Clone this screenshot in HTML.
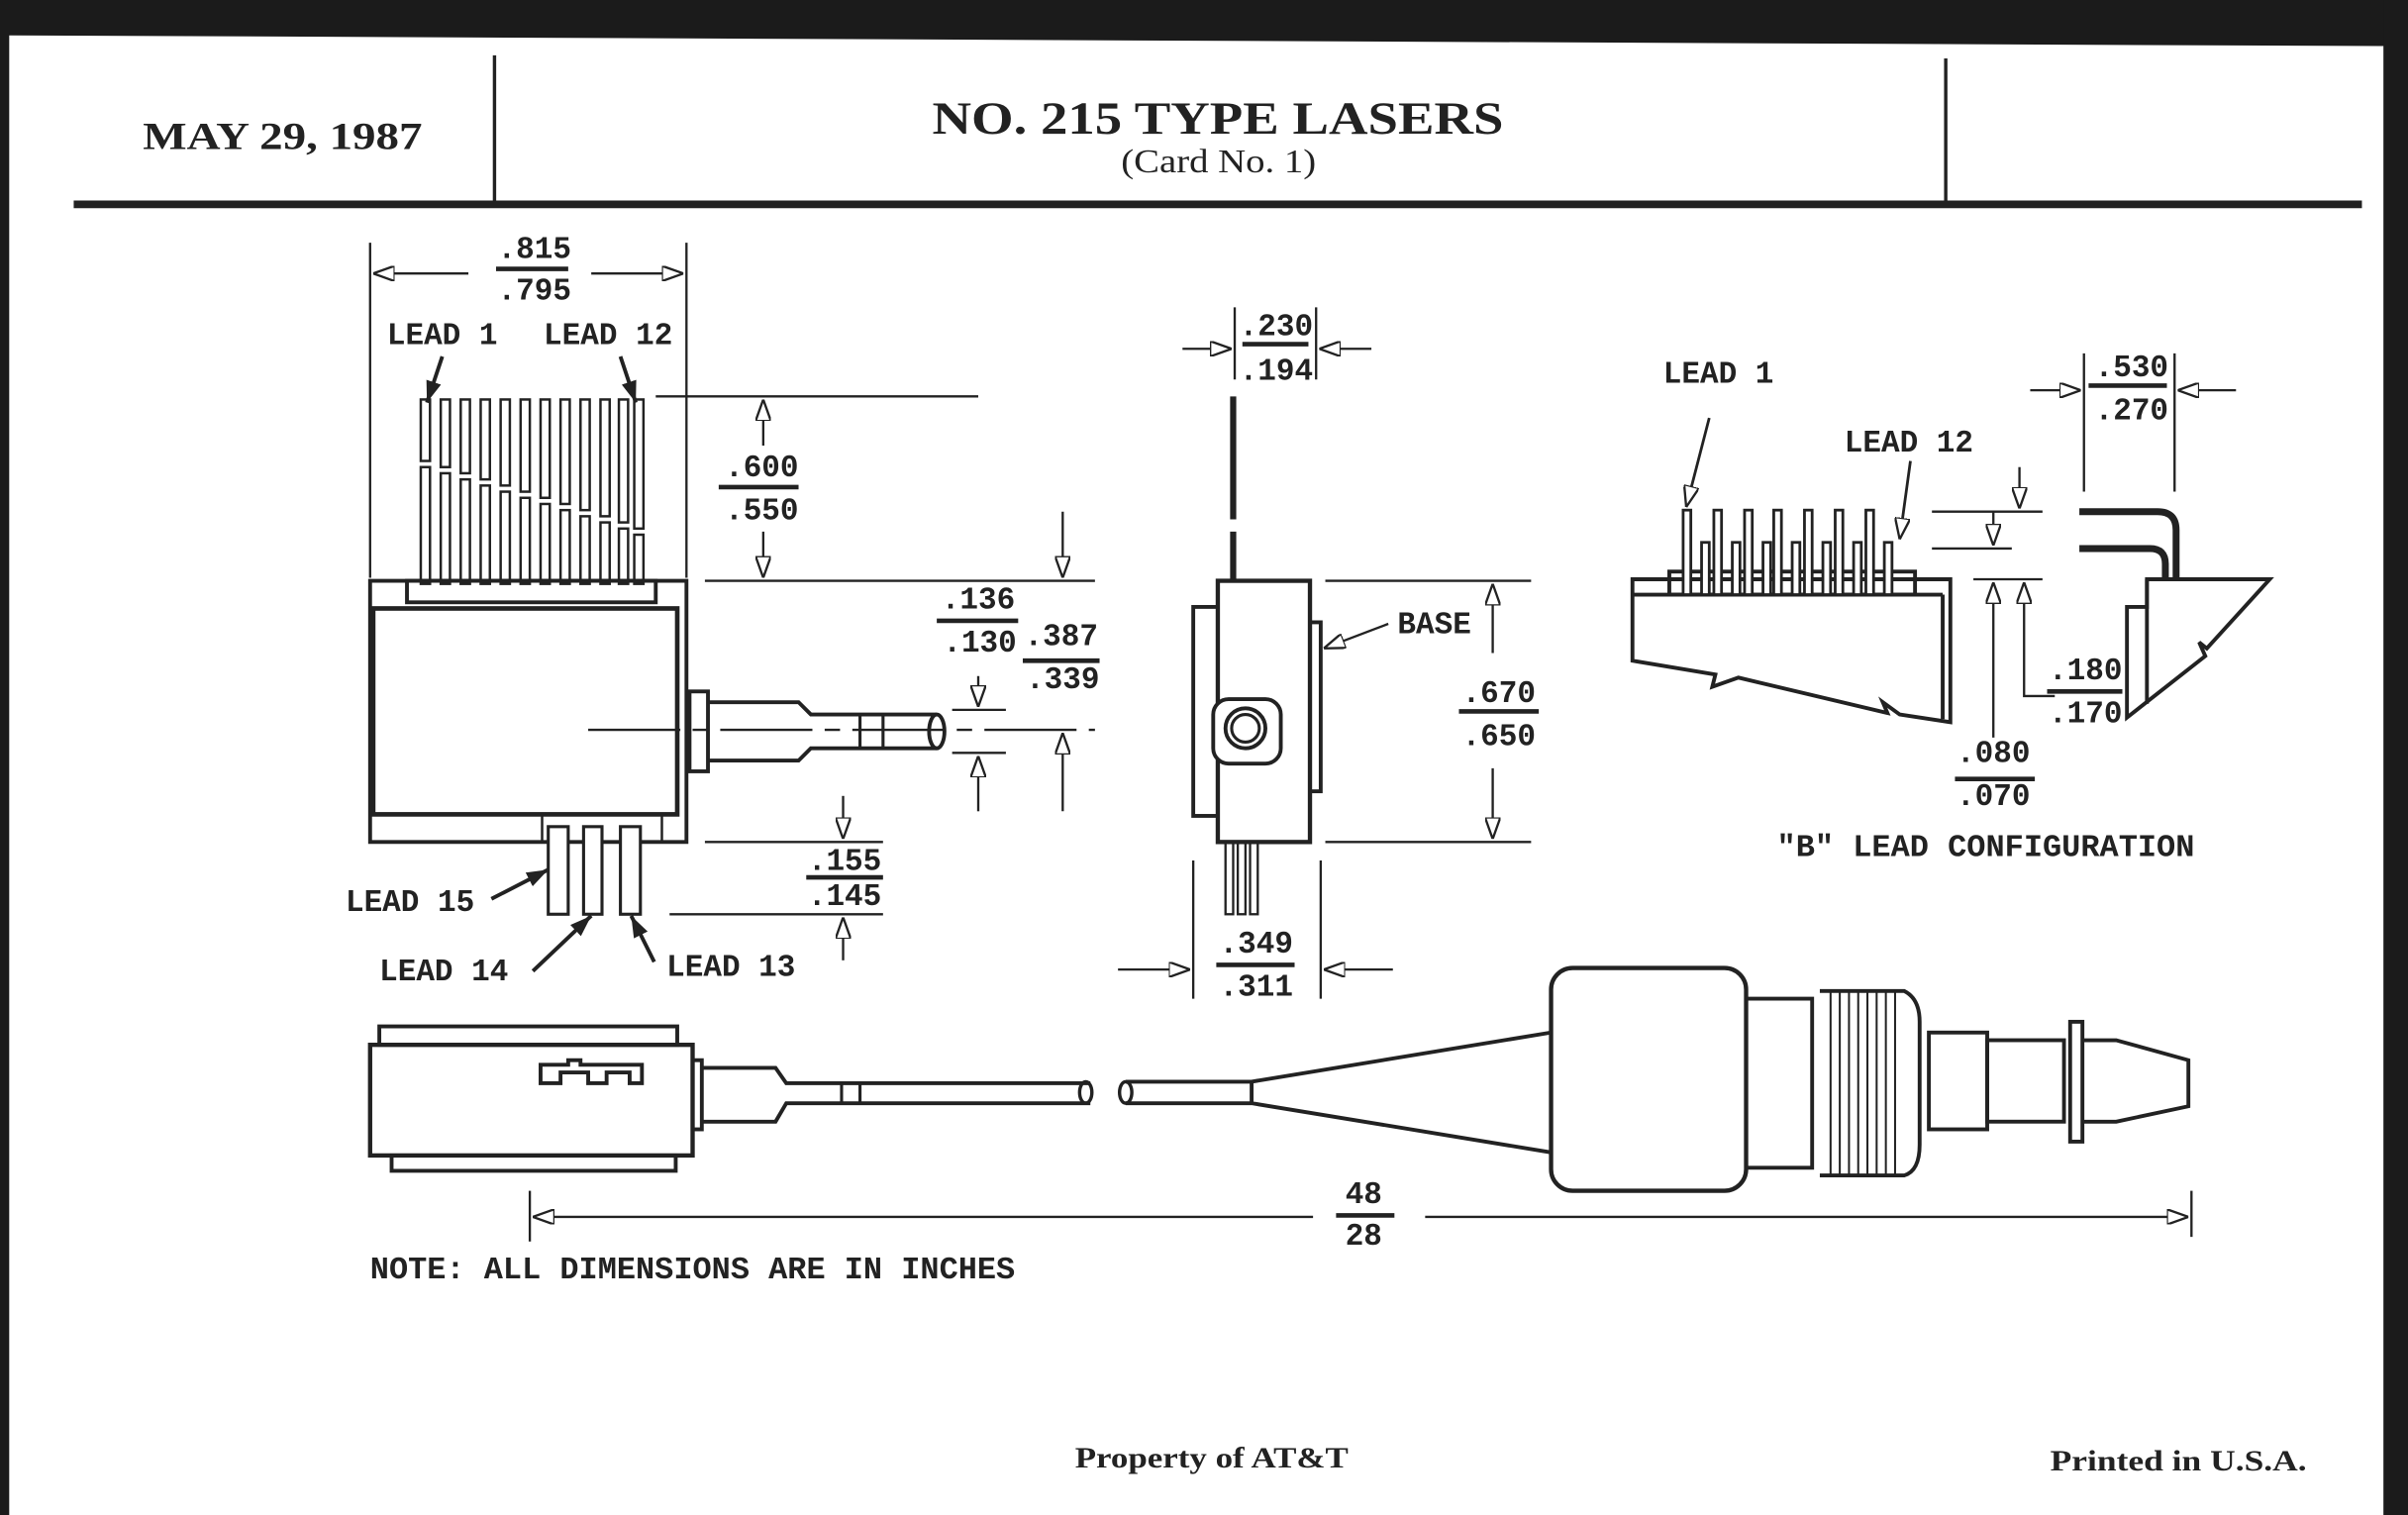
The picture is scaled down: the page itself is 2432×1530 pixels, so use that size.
<!DOCTYPE html>
<html><head><meta charset="utf-8"><style>
html,body{margin:0;padding:0;background:#fff;}
svg{display:block;}
.l{font-family:"Liberation Mono",monospace;font-weight:bold;font-size:20px;fill:#222;}
.s{font-family:"Liberation Serif",serif;font-weight:bold;fill:#222;}
</style></head><body>
<svg width="2432" height="1530" viewBox="0 0 1568 986" preserveAspectRatio="none" xmlns="http://www.w3.org/2000/svg">
<defs>
<marker id="a" viewBox="0 0 14 10" refX="14" refY="5" markerWidth="14" markerHeight="10" markerUnits="userSpaceOnUse" orient="auto"><path d="M0,0 L14,5 L0,10 Z" fill="#fff" stroke="#222" stroke-width="1.5"/></marker>
<marker id="f" viewBox="0 0 14 10" refX="14" refY="5" markerWidth="14" markerHeight="10" markerUnits="userSpaceOnUse" orient="auto"><path d="M0,0 L14,5 L0,10 Z" fill="#222"/></marker>
</defs>
<rect width="1568" height="986" fill="#fff"/>
<!-- scanner borders -->
<polygon points="0,0 1568,0 1568,30 1550,30 6,23 6,986 0,986" fill="#1b1b1b"/>
<rect x="1552" y="0" width="16" height="986" fill="#1b1b1b"/>
<g stroke="#222" fill="none" stroke-width="2.2">
<line x1="322" y1="36" x2="322" y2="132"/>
<line x1="1267" y1="38" x2="1267" y2="132"/>
<line x1="48" y1="133" x2="1538" y2="133" stroke-width="5"/>
</g>
<text class="s" x="93" y="97" font-size="25" textLength="182" lengthAdjust="spacingAndGlyphs">MAY 29, 1987</text>
<text class="s" x="607" y="87" font-size="30" textLength="372" lengthAdjust="spacingAndGlyphs">NO. 215 TYPE LASERS</text>
<text class="s" x="730" y="112" font-size="22" style="font-weight:normal" textLength="127" lengthAdjust="spacingAndGlyphs">(Card No. 1)</text>

<g stroke="#222" fill="none" stroke-width="2">
<!-- main view -->
<line x1="241" y1="158" x2="241" y2="376" stroke-width="1.5"/>
<line x1="447" y1="158" x2="447" y2="376" stroke-width="1.5"/>
<line x1="305" y1="178" x2="243" y2="178" marker-end="url(#a)" stroke-width="1.5"/>
<line x1="385" y1="178" x2="445" y2="178" marker-end="url(#a)" stroke-width="1.5"/>
<line x1="323" y1="175" x2="370" y2="175" stroke-width="3"/>
<path d="M241,378 H447 V548 H241 Z" stroke-width="2.5"/>
<rect x="243" y="396" width="198" height="134" stroke-width="3"/>
<rect x="265" y="378" width="162" height="14" stroke-width="2.5"/>
<g stroke-width="1.6">
<rect x="274" y="260" width="6" height="40"/><rect x="274" y="304" width="6" height="76"/>
<rect x="287" y="260" width="6" height="44"/><rect x="287" y="308" width="6" height="72"/>
<rect x="300" y="260" width="6" height="48"/><rect x="300" y="312" width="6" height="68"/>
<rect x="313" y="260" width="6" height="52"/><rect x="313" y="316" width="6" height="64"/>
<rect x="326" y="260" width="6" height="56"/><rect x="326" y="320" width="6" height="60"/>
<rect x="339" y="260" width="6" height="60"/><rect x="339" y="324" width="6" height="56"/>
<rect x="352" y="260" width="6" height="64"/><rect x="352" y="328" width="6" height="52"/>
<rect x="365" y="260" width="6" height="68"/><rect x="365" y="332" width="6" height="48"/>
<rect x="378" y="260" width="6" height="72"/><rect x="378" y="336" width="6" height="44"/>
<rect x="391" y="260" width="6" height="76"/><rect x="391" y="340" width="6" height="40"/>
<rect x="403" y="260" width="6" height="80"/><rect x="403" y="344" width="6" height="36"/>
<rect x="413" y="260" width="6" height="84"/><rect x="413" y="348" width="6" height="32"/>
</g>
<line x1="427" y1="258" x2="637" y2="258" stroke-width="1.5"/>
<line x1="459" y1="378" x2="713" y2="378" stroke-width="1.5"/>
<line x1="497" y1="290" x2="497" y2="260" marker-end="url(#a)" stroke-width="1.5"/>
<line x1="497" y1="346" x2="497" y2="376" marker-end="url(#a)" stroke-width="1.5"/>
<line x1="468" y1="317" x2="520" y2="317" stroke-width="3"/>
<line x1="288" y1="232" x2="278" y2="262" marker-end="url(#f)" stroke-width="2.5"/>
<line x1="404" y1="232" x2="414" y2="262" marker-end="url(#f)" stroke-width="2.5"/>
<rect x="353" y="530" width="78" height="18" stroke-width="1.6"/>
<rect x="357" y="538" width="13" height="57" fill="#fff"/>
<rect x="380" y="538" width="12" height="57" fill="#fff"/>
<rect x="404" y="538" width="13" height="57" fill="#fff"/>
<line x1="320" y1="585" x2="357" y2="566" marker-end="url(#f)" stroke-width="2.5"/>
<line x1="347" y1="632" x2="385" y2="596" marker-end="url(#f)" stroke-width="2.5"/>
<line x1="426" y1="626" x2="411" y2="596" marker-end="url(#f)" stroke-width="2.5"/>
<line x1="459" y1="548" x2="575" y2="548" stroke-width="1.5"/>
<line x1="436" y1="595" x2="575" y2="595" stroke-width="1.5"/>
<line x1="549" y1="518" x2="549" y2="546" marker-end="url(#a)" stroke-width="1.5"/>
<line x1="549" y1="625" x2="549" y2="597" marker-end="url(#a)" stroke-width="1.5"/>
<line x1="525" y1="571" x2="575" y2="571" stroke-width="3"/>
<rect x="449" y="450" width="12" height="52" stroke-width="2.5"/>
<path d="M461,457 H520 L528,465 H610 M461,495 H520 L528,487 H610" stroke-width="2.5"/>
<path d="M560,465 V487 M575,465 V487" stroke-width="2"/>
<ellipse cx="610" cy="476" rx="5" ry="11" stroke-width="2.5"/>
<line x1="383" y1="475" x2="713" y2="475" stroke-width="1.5" stroke-dasharray="60,8,10,8"/>
<line x1="620" y1="462" x2="655" y2="462" stroke-width="1.5"/>
<line x1="620" y1="490" x2="655" y2="490" stroke-width="1.5"/>
<line x1="637" y1="440" x2="637" y2="460" marker-end="url(#a)" stroke-width="1.5"/>
<line x1="637" y1="528" x2="637" y2="492" marker-end="url(#a)" stroke-width="1.5"/>
<line x1="692" y1="333" x2="692" y2="376" marker-end="url(#a)" stroke-width="1.5"/>
<line x1="692" y1="528" x2="692" y2="477" marker-end="url(#a)" stroke-width="1.5"/>
<line x1="610" y1="404" x2="663" y2="404" stroke-width="3"/>
<line x1="666" y1="430" x2="716" y2="430" stroke-width="3"/>

<!-- side view -->
<line x1="804" y1="200" x2="804" y2="247" stroke-width="1.5"/>
<line x1="857" y1="200" x2="857" y2="247" stroke-width="1.5"/>
<line x1="770" y1="227" x2="802" y2="227" marker-end="url(#a)" stroke-width="1.5"/>
<line x1="893" y1="227" x2="859" y2="227" marker-end="url(#a)" stroke-width="1.5"/>
<line x1="809" y1="224" x2="852" y2="224" stroke-width="3"/>
<line x1="803" y1="258" x2="803" y2="338" stroke-width="4"/>
<line x1="803" y1="346" x2="803" y2="378" stroke-width="4"/>
<rect x="793" y="378" width="60" height="170" stroke-width="2.8"/>
<rect x="777" y="395" width="16" height="136" stroke-width="2.5"/>
<rect x="853" y="405" width="7" height="110" stroke-width="2.5"/>
<rect x="790" y="455" width="44" height="42" rx="10" fill="#fff" stroke-width="2.5"/>
<circle cx="811" cy="474" r="13" stroke-width="2.5"/>
<circle cx="811" cy="474" r="9" stroke-width="2"/>
<rect x="798" y="548" width="5" height="47" stroke-width="1.5"/>
<rect x="806" y="548" width="5" height="47" stroke-width="1.5"/>
<rect x="814" y="548" width="5" height="47" stroke-width="1.5"/>
<line x1="904" y1="406" x2="862" y2="422" marker-end="url(#a)" stroke-width="1.5"/>
<line x1="863" y1="378" x2="997" y2="378" stroke-width="1.5"/>
<line x1="863" y1="548" x2="997" y2="548" stroke-width="1.5"/>
<line x1="972" y1="425" x2="972" y2="380" marker-end="url(#a)" stroke-width="1.5"/>
<line x1="972" y1="500" x2="972" y2="546" marker-end="url(#a)" stroke-width="1.5"/>
<line x1="950" y1="463" x2="1002" y2="463" stroke-width="3"/>
<line x1="777" y1="560" x2="777" y2="650" stroke-width="1.5"/>
<line x1="860" y1="560" x2="860" y2="650" stroke-width="1.5"/>
<line x1="728" y1="631" x2="775" y2="631" marker-end="url(#a)" stroke-width="1.5"/>
<line x1="907" y1="631" x2="862" y2="631" marker-end="url(#a)" stroke-width="1.5"/>
<line x1="792" y1="628" x2="843" y2="628" stroke-width="3"/>

<!-- B lead configuration -->
<path d="M1063,377 H1270 V470 L1237,465 L1226,457 L1229,464 L1132,441 L1115,447 L1117,439 L1063,430 Z" stroke-width="2.5"/>
<line x1="1063" y1="387" x2="1265" y2="387" stroke-width="2.5"/>
<line x1="1265" y1="387" x2="1265" y2="468" stroke-width="2.5"/>
<rect x="1087" y="372" width="160" height="15" stroke-width="2.5"/>
<g stroke-width="1.8" fill="#fff">
<rect x="1096" y="332" width="5" height="55"/><rect x="1108" y="353" width="5" height="34"/>
<rect x="1116" y="332" width="5" height="55"/><rect x="1128" y="353" width="5" height="34"/>
<rect x="1136" y="332" width="5" height="55"/><rect x="1148" y="353" width="5" height="34"/>
<rect x="1155" y="332" width="5" height="55"/><rect x="1167" y="353" width="5" height="34"/>
<rect x="1175" y="332" width="5" height="55"/><rect x="1187" y="353" width="5" height="34"/>
<rect x="1195" y="332" width="5" height="55"/><rect x="1215" y="332" width="5" height="55"/>
<rect x="1207" y="353" width="5" height="34"/><rect x="1227" y="353" width="5" height="34"/>
</g>
<line x1="1113" y1="272" x2="1098" y2="330" marker-end="url(#a)" stroke-width="1.8"/>
<line x1="1244" y1="300" x2="1237" y2="351" marker-end="url(#a)" stroke-width="1.8"/>
<line x1="1258" y1="333" x2="1330" y2="333" stroke-width="1.5"/>
<line x1="1258" y1="357" x2="1310" y2="357" stroke-width="1.5"/>
<line x1="1285" y1="377" x2="1330" y2="377" stroke-width="1.5"/>
<line x1="1315" y1="304" x2="1315" y2="331" marker-end="url(#a)" stroke-width="1.5"/>
<line x1="1298" y1="333" x2="1298" y2="355" marker-end="url(#a)" stroke-width="1.5"/>
<line x1="1298" y1="480" x2="1298" y2="379" marker-end="url(#a)" stroke-width="1.5"/>
<path d="M1338,453 H1318 V379" marker-end="url(#a)" stroke-width="1.5"/>
<line x1="1273" y1="507" x2="1325" y2="507" stroke-width="3"/>
<line x1="1333" y1="450" x2="1382" y2="450" stroke-width="3"/>
<line x1="1357" y1="230" x2="1357" y2="320" stroke-width="1.5"/>
<line x1="1416" y1="230" x2="1416" y2="320" stroke-width="1.5"/>
<line x1="1322" y1="254" x2="1355" y2="254" marker-end="url(#a)" stroke-width="1.5"/>
<line x1="1456" y1="254" x2="1418" y2="254" marker-end="url(#a)" stroke-width="1.5"/>
<line x1="1360" y1="251" x2="1411" y2="251" stroke-width="3"/>
<path d="M1354,333 H1405 Q1417,333 1417,345 V377" stroke-width="4.5"/>
<path d="M1354,357 H1400 Q1410,357 1410,367 V377" stroke-width="4.5"/>
<path d="M1398,377 H1478 L1437,422 L1432,418 L1436,427 L1385,467 V395 H1398 Z" stroke-width="2.5"/>
<line x1="1398" y1="377" x2="1398" y2="458" stroke-width="2.5"/>

<!-- bottom view -->
<rect x="241" y="680" width="210" height="72" stroke-width="2.8"/>
<rect x="247" y="668" width="194" height="12" stroke-width="2.5"/>
<rect x="255" y="752" width="185" height="10" stroke-width="2.5"/>
<path d="M352,705 V693 H370 V690 H378 V693 H418 V705 H410 V698 H395 V705 H383 V698 H365 V705 Z" stroke-width="2.5"/>
<rect x="451" y="690" width="6" height="45" stroke-width="2.5"/>
<path d="M457,695 H505 L512,705 H710 M457,730 H505 L512,718 H710" stroke-width="2.5"/>
<path d="M548,705 V718 M560,705 V718" stroke-width="2"/>
<ellipse cx="707" cy="711" rx="4" ry="7" stroke-width="2.2"/>
<ellipse cx="733" cy="711" rx="4" ry="7" stroke-width="2.2"/>
<path d="M733,704 H815 L1010,672 M733,718 H815 L1010,750 M815,704 V718" stroke-width="2.5"/>
<rect x="1010" y="630" width="127" height="145" rx="14" fill="#fff" stroke-width="2.8"/>
<path d="M1137,650 H1180 V760 H1137" stroke-width="2.5"/>
<path d="M1185,645 H1240 Q1250,650 1250,665 V745 Q1250,762 1240,765 H1185" stroke-width="2.5"/>
<g stroke-width="1.3">
<path d="M1192,645 V765 M1198,645 V765 M1204,645 V765 M1210,645 V765 M1216,645 V765 M1222,645 V765 M1228,645 V765 M1234,645 V765"/>
</g>
<rect x="1256" y="672" width="38" height="63" stroke-width="2.5"/>
<rect x="1294" y="677" width="50" height="53" stroke-width="2.5"/>
<rect x="1348" y="665" width="8" height="78" stroke-width="2.5"/>
<path d="M1356,677 H1378 L1425,690 V720 L1378,730 H1356" stroke-width="2.5"/>
<line x1="345" y1="775" x2="345" y2="808" stroke-width="1.5"/>
<line x1="1427" y1="775" x2="1427" y2="805" stroke-width="1.5"/>
<line x1="855" y1="792" x2="347" y2="792" marker-end="url(#a)" stroke-width="1.5"/>
<line x1="928" y1="792" x2="1425" y2="792" marker-end="url(#a)" stroke-width="1.5"/>
<line x1="870" y1="791" x2="908" y2="791" stroke-width="3"/>
</g>

<text class="l" x="348" y="168" text-anchor="middle">.815</text>
<text class="l" x="348" y="195" text-anchor="middle">.795</text>
<text class="l" x="252" y="224">LEAD 1</text>
<text class="l" x="354" y="224">LEAD 12</text>
<text class="l" x="496" y="310" text-anchor="middle">.600</text>
<text class="l" x="496" y="338" text-anchor="middle">.550</text>
<text class="l" x="637" y="396" text-anchor="middle">.136</text>
<text class="l" x="638" y="424" text-anchor="middle">.130</text>
<text class="l" x="691" y="420" text-anchor="middle">.387</text>
<text class="l" x="692" y="448" text-anchor="middle">.339</text>
<text class="l" x="550" y="566" text-anchor="middle">.155</text>
<text class="l" x="550" y="589" text-anchor="middle">.145</text>
<text class="l" x="225" y="593">LEAD 15</text>
<text class="l" x="247" y="638">LEAD 14</text>
<text class="l" x="434" y="635">LEAD 13</text>
<text class="l" x="831" y="218" text-anchor="middle">.230</text>
<text class="l" x="831" y="247" text-anchor="middle">.194</text>
<text class="l" x="910" y="412">BASE</text>
<text class="l" x="976" y="457" text-anchor="middle">.670</text>
<text class="l" x="976" y="485" text-anchor="middle">.650</text>
<text class="l" x="818" y="620" text-anchor="middle">.349</text>
<text class="l" x="818" y="648" text-anchor="middle">.311</text>
<text class="l" x="1083" y="249">LEAD 1</text>
<text class="l" x="1201" y="294">LEAD 12</text>
<text class="l" x="1388" y="245" text-anchor="middle">.530</text>
<text class="l" x="1388" y="273" text-anchor="middle">.270</text>
<text class="l" x="1358" y="442" text-anchor="middle">.180</text>
<text class="l" x="1358" y="470" text-anchor="middle">.170</text>
<text class="l" x="1298" y="496" text-anchor="middle">.080</text>
<text class="l" x="1298" y="524" text-anchor="middle">.070</text>
<text class="l" x="1157" y="557" textLength="272" lengthAdjust="spacingAndGlyphs">"B" LEAD CONFIGURATION</text>
<text class="l" x="888" y="783" text-anchor="middle">48</text>
<text class="l" x="888" y="810" text-anchor="middle">28</text>
<text class="l" x="241" y="832" textLength="420" lengthAdjust="spacingAndGlyphs">NOTE: ALL DIMENSIONS ARE IN INCHES</text>
<text class="s" x="700" y="955" font-size="19" textLength="178" lengthAdjust="spacingAndGlyphs">Property of AT&amp;T</text>
<text class="s" x="1335" y="957" font-size="19" textLength="167" lengthAdjust="spacingAndGlyphs">Printed in U.S.A.</text>
</svg>
</body></html>
